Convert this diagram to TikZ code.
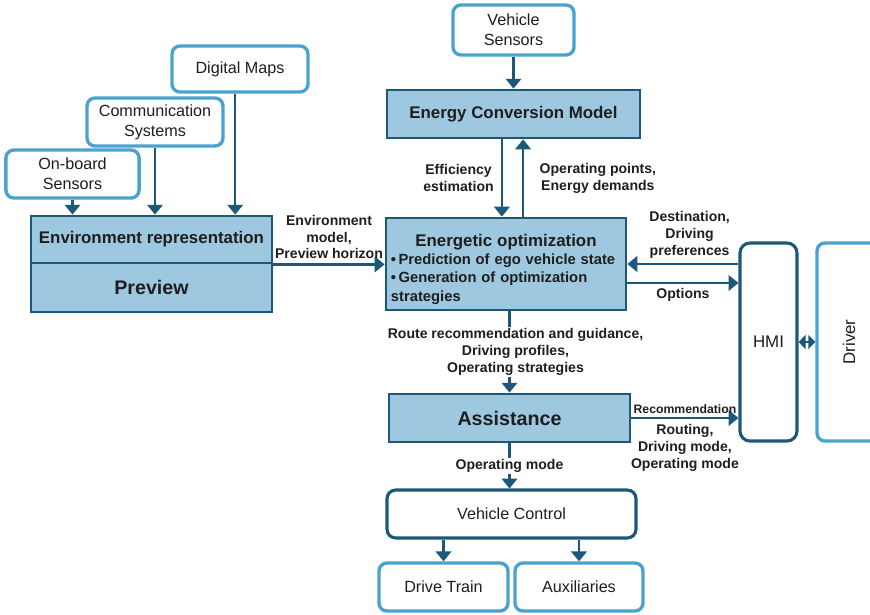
\documentclass[tikz,border=0pt]{standalone}
\usepackage{fontspec}
\setmainfont{Liberation Sans}
\usetikzlibrary{arrows.meta}
\definecolor{linedark}{RGB}{28,88,122}
\definecolor{linelight}{RGB}{74,163,207}
\definecolor{boxfill}{RGB}{158,200,224}
\definecolor{textgray}{RGB}{30,30,30}
\tikzset{
	inbox/.style={draw=linelight, line width=2.4pt, rounded corners=0.2cm, fill=white, text=textgray, align=center, font=\fontsize{11.5}{14}\selectfont, minimum height=1.2cm},
	bluebox/.style={draw=linedark, line width=2pt, fill=boxfill, text=textgray, align=center, font=\bfseries\fontsize{12}{14}\selectfont, minimum height=1.2cm},
	ctlbox/.style={draw=linedark, line width=2.2pt, rounded corners=0.22cm, fill=white, text=textgray, align=center, font=\fontsize{11.5}{14}\selectfont},
	arr/.style={draw=linedark, line width=1.6pt, -{Triangle[width=11pt,length=7pt]}},
	dblarr/.style={draw=linedark, line width=1.6pt, {Triangle[width=10pt,length=5pt]}-{Triangle[width=10pt,length=5pt]}},
	lbl/.style={text=textgray, align=center, font=\bfseries\fontsize{10}{12}\selectfont, inner sep=1pt}
}
\begin{document}
\begin{tikzpicture}[x=0.025cm, y=-0.025cm]
		\useasboundingbox (0,0) rectangle (870,614);
		\clip (0,0) rectangle (870,614);
		\node[inbox, minimum width=3.4cm, minimum height=1.15cm] (maps) at (240,69) {Digital Maps};
		\node[inbox, minimum width=3.4cm] (comm) at (155,122) {Communication\\Systems};
		\node[inbox, minimum width=3.33cm] (onboard) at (72.5,174) {On-board\\Sensors};
		\node[bluebox, minimum width=6.025cm, minimum height=1.175cm, font=\bfseries\fontsize{12}{14}\selectfont] (envrep) at (151.5,239.5) {Environment representation};
		\node[bluebox, minimum width=6.025cm, minimum height=1.225cm, font=\bfseries\fontsize{14}{16}\selectfont] (preview) at (151.5,287.5) {Preview};
		\node[inbox, minimum width=3.025cm, minimum height=1.25cm] (vsens) at (513.5,30) {Vehicle\\Sensors};
		\node[bluebox, minimum width=6.325cm] (ecm) at (513.5,114) {Energy Conversion Model};
		\node[bluebox, minimum width=6cm, minimum height=2.3cm, text width=5.75cm, align=left, inner sep=2pt, font=\bfseries\fontsize{10.5}{13}\selectfont] (eo) at (506,264) {{\centering\fontsize{12}{15}\selectfont\rule{0pt}{16pt}Energetic optimization\par}\textbullet\,Prediction of ego vehicle state\\\textbullet\,Generation of optimization\\strategies};
		\node[ctlbox, minimum width=1.425cm, minimum height=4.95cm, rounded corners=0.25cm, font=\fontsize{12}{14}\selectfont] (hmi) at (768.5,342) {HMI};
		\node[inbox, rotate=90, minimum width=4.95cm, minimum height=1.6cm, font=\fontsize{12}{14}\selectfont] (driver) at (849,342) {Driver};
		\node[bluebox, minimum width=6.025cm, font=\bfseries\fontsize{14}{16}\selectfont] (asst) at (509.5,418) {Assistance};
		\node[ctlbox, minimum width=6.225cm, minimum height=1.2cm] (vctrl) at (511.5,514) {Vehicle Control};
		\node[inbox, minimum width=3.225cm] (dtrain) at (443.5,587) {Drive Train};
		\node[inbox, minimum width=3.2cm] (aux) at (579,587) {Auxiliaries};
		\draw[arr] (onboard.south) -- (onboard.south |- envrep.north);
		\draw[arr] (comm.south) -- (comm.south |- envrep.north);
		\draw[arr] ([xshift=-0.12cm]maps.south) -- ([xshift=-0.12cm]maps.south |- envrep.north);
		\draw[arr] (envrep.south east) -- (envrep.south east -| eo.west) node[lbl, midway, above=2pt] {Environment\\model,\\Preview horizon};
		\draw[arr] (vsens.south) -- (ecm.north);
		\draw[arr] ([xshift=-0.29cm]ecm.south) -- ([xshift=-0.29cm]ecm.south |- eo.north) node[lbl, midway, left=4pt] {Efficiency\\estimation};
		\draw[arr] ([xshift=0.24cm]ecm.south |- eo.north) -- ([xshift=0.24cm]ecm.south) node[lbl, midway, right=10pt] {Operating points,\\Energy demands};
		\draw[arr] (hmi.west |- eo.east) -- (eo.east) node[lbl, pos=0.44, above=2pt] {Destination,\\Driving\\preferences};
		\draw[arr] ([yshift=-0.475cm]eo.east) -- ([yshift=-0.475cm]eo.east -| hmi.west) node[lbl, midway, below=2pt] {Options};
		\draw[dblarr] (hmi.east) -- (driver.north);
		\draw[arr] (eo.south -| asst.north) -- (asst.north) node[lbl, midway, fill=white, xshift=0.15cm] {Route recommendation and guidance,\\Driving profiles,\\Operating strategies};
		\draw[arr] (asst.east) -- (asst.east -| hmi.west) node[lbl, midway, above=1pt, font=\bfseries\fontsize{8.7}{10}\selectfont] {Recommendation} node[lbl, midway, below=3pt] {Routing,\\Driving mode,\\Operating mode};
		\draw[arr] (asst.south) -- (asst.south |- vctrl.north) node[lbl, midway, fill=white] {Operating mode};
		\draw[arr] (dtrain.north |- vctrl.south) -- (dtrain.north);
		\draw[arr] (aux.north |- vctrl.south) -- (aux.north);
	\end{tikzpicture}
\end{document}
